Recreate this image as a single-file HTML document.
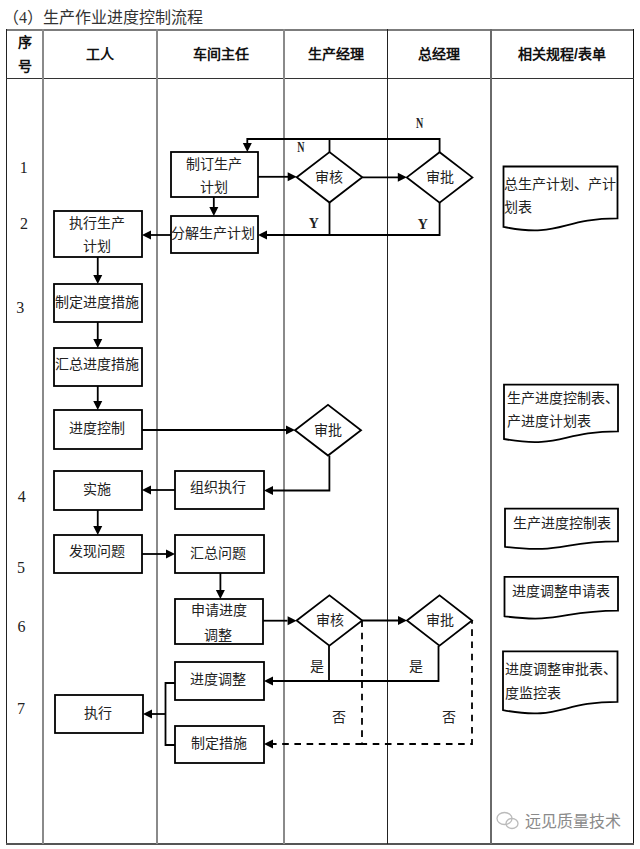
<!DOCTYPE html>
<html lang="zh-CN"><head><meta charset="utf-8"><style>
html,body{margin:0;padding:0;background:#fff;}
body{width:640px;height:849px;overflow:hidden;position:relative;}
svg{position:absolute;left:0;top:0;}
text{font-family:"Liberation Sans",sans-serif;dominant-baseline:central;text-anchor:middle;}
.t{font-size:14px;fill:#222;}
.tl{font-size:14px;fill:#222;text-anchor:start;}
.h{font-size:14px;font-weight:bold;fill:#111;}
.n{font-family:"Liberation Serif",serif;font-size:16px;fill:#222;}
.lb{font-family:"Liberation Serif",serif;font-size:14px;fill:#222;}
.ti{font-family:"Liberation Serif",serif;font-size:16px;fill:#333;text-anchor:start;}
.wm{font-size:16px;fill:#8a8a8a;text-anchor:start;}
.bx{fill:none;stroke:#000;stroke-width:1.8;}
.ln{fill:none;stroke:#000;stroke-width:1.8;}
.dl{fill:none;stroke:#000;stroke-width:1.8;stroke-dasharray:6.6 5.6;}
.ah{fill:#000;stroke:none;}
.nb{font-weight:bold;}
</style></head><body>
<svg width="640" height="849" viewBox="0 0 640 849">
<rect x="6" y="29" width="628" height="2" fill="#7c7c7c"/>
<rect x="6" y="29" width="1" height="816" fill="#222"/>
<rect x="633" y="29" width="1" height="816" fill="#111"/>
<rect x="6" y="78" width="628" height="1" fill="#333"/>
<rect x="6" y="843" width="628" height="2" fill="#555"/>
<rect x="42" y="29" width="2" height="815" fill="#8a8a8a"/>
<rect x="156" y="29" width="2" height="815" fill="#8a8a8a"/>
<rect x="283" y="29" width="2" height="815" fill="#8a8a8a"/>
<rect x="387" y="29" width="1" height="815" fill="#222"/>
<rect x="490" y="29" width="2" height="815" fill="#6a6a6a"/>
<text x="24.5" y="42" class="h">序</text>
<text x="24.5" y="66" class="h">号</text>
<text x="100" y="54" class="h">工人</text>
<text x="220.5" y="54" class="h">车间主任</text>
<text x="335.5" y="54" class="h">生产经理</text>
<text x="438.5" y="54" class="h">总经理</text>
<text x="562" y="54" class="h">相关规程/表单</text>
<text x="23.7" y="167.8" class="n">1</text>
<text x="23.9" y="223.4" class="n">2</text>
<text x="20.3" y="307" class="n">3</text>
<text x="21.7" y="496.6" class="n">4</text>
<text x="21" y="567" class="n">5</text>
<text x="21.5" y="626.5" class="n">6</text>
<text x="21" y="708.7" class="n">7</text>
<rect x="171" y="152" width="87" height="45" class="bx"/>
<rect x="171" y="216" width="87" height="37" class="bx"/>
<rect x="54" y="211" width="88" height="46" class="bx"/>
<rect x="54" y="284" width="88" height="38" class="bx"/>
<rect x="54" y="348" width="88" height="38" class="bx"/>
<rect x="54" y="410" width="88" height="39" class="bx"/>
<rect x="54" y="471" width="88" height="39" class="bx"/>
<rect x="54" y="535" width="88" height="38" class="bx"/>
<rect x="55" y="695" width="88" height="38" class="bx"/>
<rect x="175" y="471" width="89" height="38" class="bx"/>
<rect x="175" y="535" width="89" height="38" class="bx"/>
<rect x="175" y="599" width="88" height="45" class="bx"/>
<rect x="175" y="662" width="89" height="38" class="bx"/>
<rect x="175" y="726" width="89" height="37" class="bx"/>
<polygon points="296.7,177.3 329.5,152.10000000000002 362.3,177.3 329.5,202.5" class="bx"/>
<polygon points="406.8,177.4 439.6,152.20000000000002 472.40000000000003,177.4 439.6,202.6" class="bx"/>
<polygon points="296.59999999999997,620.5 329.4,595.3 362.2,620.5 329.4,645.7" class="bx"/>
<polygon points="407.0,620.5 439.5,595.3 472.0,620.5 439.5,645.7" class="bx"/>
<polygon points="295,430.2 328,404.9 361,430.2 328,455.5" class="bx"/>
<path class="bx" d="M503.5,166.5 L617.5,166.5 L617.5,218.4 C560.5,218.4 560.5,238.2 503.5,226.9 Z"/>
<path class="bx" d="M504,384.7 L618,384.7 L618,431.3 C561.0,431.3 561.0,449.0 504,439.0 Z"/>
<path class="bx" d="M505,508.6 L618,508.6 L618,541.4 C561.5,541.4 561.5,553.9 505,546.8 Z"/>
<path class="bx" d="M504.5,576.8 L618,576.8 L618,610.7 C561.2,610.7 561.2,623.6 504.5,616.3 Z"/>
<path class="bx" d="M503,651.4 L617.5,651.4 L617.5,701.8 C560.2,701.8 560.2,721.0 503,710.1 Z"/>
<polyline points="439.6,152.2 439.6,139 247.3,139 247.3,143" class="ln"/>
<polygon points="247.3,152 242.8,143 251.8,143" class="ah"/>
<polyline points="329.5,152 329.5,139" class="ln"/>
<polyline points="258,176.8 288,176.8" class="ln"/>
<polygon points="296.7,176.8 287.7,172.3 287.7,181.3" class="ah"/>
<polyline points="362.3,177.3 398,177.3" class="ln"/>
<polygon points="406.8,177.3 397.8,172.8 397.8,181.8" class="ah"/>
<polyline points="213.8,197 213.8,207" class="ln"/>
<polygon points="213.8,216 209.3,207 218.3,207" class="ah"/>
<polyline points="329.5,202.5 329.5,235" class="ln"/>
<polyline points="439.6,202.6 439.6,235 267,235" class="ln"/>
<polygon points="258,235 267,230.5 267,239.5" class="ah"/>
<polyline points="171,235 151,235" class="ln"/>
<polygon points="142,235 151,230.5 151,239.5" class="ah"/>
<polyline points="97.75,257 97.75,275" class="ln"/>
<polygon points="97.75,284 93.25,275 102.25,275" class="ah"/>
<polyline points="97.75,322 97.75,339" class="ln"/>
<polygon points="97.75,348 93.25,339 102.25,339" class="ah"/>
<polyline points="97.75,386 97.75,401" class="ln"/>
<polygon points="97.75,410 93.25,401 102.25,401" class="ah"/>
<polyline points="97.75,510 97.75,526" class="ln"/>
<polygon points="97.75,535 93.25,526 102.25,526" class="ah"/>
<polyline points="142,430 286,430" class="ln"/>
<polygon points="295,430 286,425.5 286,434.5" class="ah"/>
<polyline points="329.4,455.5 329.4,490.5 273,490.5" class="ln"/>
<polygon points="264,490.5 273,486.0 273,495.0" class="ah"/>
<polyline points="175,490 151,490" class="ln"/>
<polygon points="142,490 151,485.5 151,494.5" class="ah"/>
<polyline points="142,554 166,554" class="ln"/>
<polygon points="175,554 166,549.5 166,558.5" class="ah"/>
<polyline points="220.4,573 220.4,590" class="ln"/>
<polygon points="220.4,599 215.9,590 224.9,590" class="ah"/>
<polyline points="263,620.7 287.5,620.7" class="ln"/>
<polygon points="296.6,620.7 287.6,616.2 287.6,625.2" class="ah"/>
<polyline points="362.2,620.5 398,620.5" class="ln"/>
<polygon points="407,620.5 398,616.0 398,625.0" class="ah"/>
<polyline points="329,645.7 329,681" class="ln"/>
<polyline points="438.5,645.7 438.5,681 273,681" class="ln"/>
<polygon points="264,681 273,676.5 273,685.5" class="ah"/>
<polyline points="362,620.5 362,744 472,744 472,620.5" class="dl"/>
<polyline points="362,744 273,744" class="dl"/>
<polygon points="264,744 273,739.5 273,748.5" class="ah"/>
<polyline points="175,683 165.5,683 165.5,745 175,745" class="ln"/>
<polyline points="165.5,714 152,714" class="ln"/>
<polygon points="143,714 152,709.5 152,718.5" class="ah"/>
<text x="0" y="0" class="lb nb" transform="translate(300.8,147.2) scale(0.72,1)">N</text>
<text x="0" y="0" class="lb nb" transform="translate(419.7,123.4) scale(0.72,1)">N</text>
<text x="313.8" y="223.5" class="lb nb">Y</text>
<text x="422.8" y="224.5" class="lb nb">Y</text>
<text x="316.7" y="666" class="t">是</text>
<text x="416.2" y="666" class="t">是</text>
<text x="338.6" y="717.3" class="t">否</text>
<text x="449" y="717.3" class="t">否</text>
<text x="213.5" y="163.5" class="t">制订生产</text>
<text x="213.8" y="187" class="t">计划</text>
<text x="213.3" y="232.6" class="t">分解生产计划</text>
<text x="96.9" y="223.4" class="t">执行生产</text>
<text x="97.2" y="246.4" class="t">计划</text>
<text x="97.2" y="301.6" class="t">制定进度措施</text>
<text x="97.2" y="364.4" class="t">汇总进度措施</text>
<text x="97.2" y="427.8" class="t">进度控制</text>
<text x="97.2" y="489" class="t">实施</text>
<text x="97.2" y="551.3" class="t">发现问题</text>
<text x="97.9" y="712.5" class="t">执行</text>
<text x="217.7" y="487" class="t">组织执行</text>
<text x="218" y="552.6" class="t">汇总问题</text>
<text x="218.8" y="609.7" class="t">申请进度</text>
<text x="218.3" y="634.7" class="t">调整</text>
<text x="218.3" y="678.6" class="t">进度调整</text>
<text x="218.9" y="743.3" class="t">制定措施</text>
<text x="329.2" y="176.5" class="t">审核</text>
<text x="440" y="176.8" class="t">审批</text>
<text x="329.5" y="620.3" class="t">审核</text>
<text x="440" y="620.3" class="t">审批</text>
<text x="327.7" y="430" class="t">审批</text>
<text x="503.5" y="183.9" class="tl">总生产计划、产计</text>
<text x="503.5" y="207.3" class="tl">划表</text>
<text x="507" y="398.4" class="tl">生产进度控制表、</text>
<text x="507" y="421.4" class="tl">产进度计划表</text>
<text x="512.6" y="522.8" class="tl">生产进度控制表</text>
<text x="512.2" y="591.3" class="tl">进度调整申请表</text>
<text x="505.3" y="669.2" class="tl">进度调整审批表、</text>
<text x="505.3" y="693.4" class="tl">度监控表</text>
<text x="3" y="17" class="ti">（4）生产作业进度控制流程</text>
<text x="525" y="821.5" class="wm">远见质量技术</text>
<g fill="none" stroke="#bbb" stroke-width="1.3"><ellipse cx="504.5" cy="818.5" rx="7.5" ry="6"/><ellipse cx="512" cy="823.5" rx="6" ry="5"/></g>
</svg>
</body></html>
